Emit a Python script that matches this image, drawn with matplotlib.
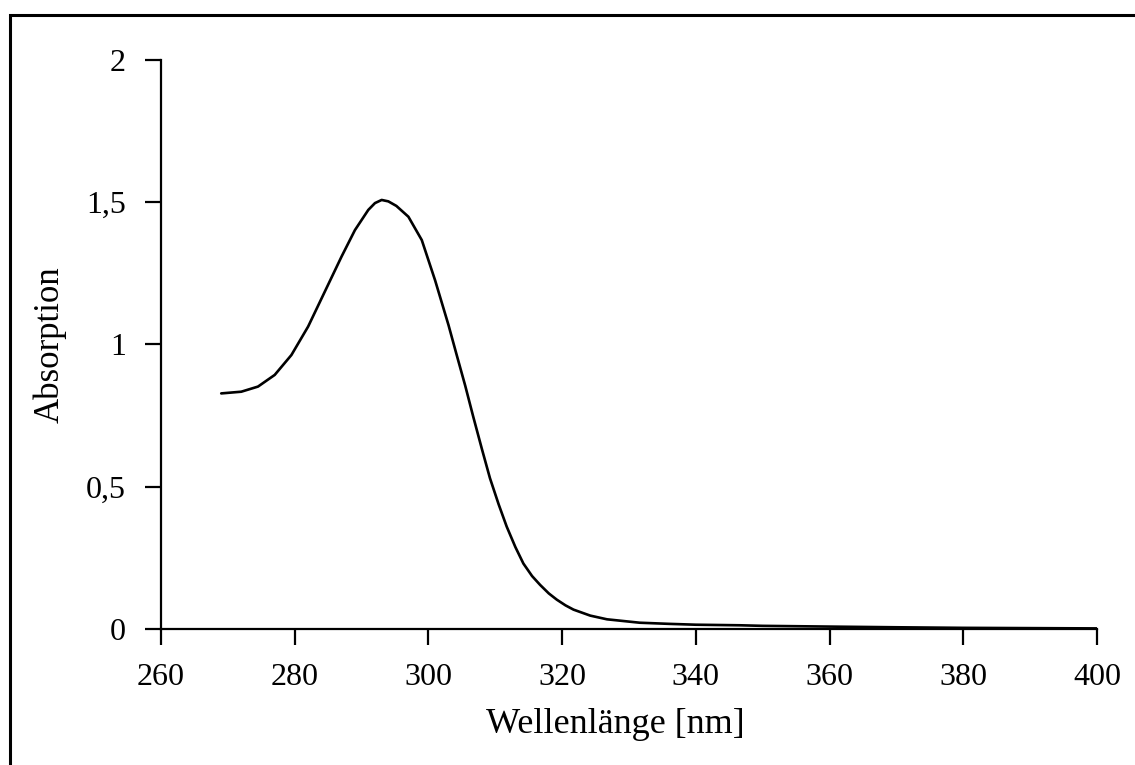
import numpy as np
import matplotlib
matplotlib.use("Agg")
import matplotlib.pyplot as plt
from matplotlib.patches import Rectangle
from matplotlib.ticker import FuncFormatter

plt.rcParams["font.family"] = ["Liberation Serif", "DejaVu Serif"]

# absorption spectrum
wavelength = [269.0, 272.0, 274.5, 277.0, 279.5, 282.0, 284.5, 287.0, 289.0,
              291.0, 292.0, 293.0, 294.0, 295.2, 297.0, 299.0, 301.0, 303.0,
              304.2, 305.5, 306.7, 308.0, 309.2, 310.5, 311.7, 313.0, 314.2,
              315.5, 316.7, 318.0, 319.2, 320.5, 321.7, 324.2, 326.7, 331.6,
              336.0, 340.0, 346.6, 350.0, 361.6, 370.0, 380.0, 390.0, 400.0]
absorption = [0.828, 0.834, 0.852, 0.893, 0.963, 1.063, 1.186, 1.309, 1.402,
              1.473, 1.497, 1.508, 1.503, 1.487, 1.449, 1.367, 1.225, 1.068,
              0.965, 0.855, 0.746, 0.632, 0.530, 0.438, 0.360, 0.288, 0.230,
              0.186, 0.155, 0.125, 0.103, 0.083, 0.068, 0.047, 0.034, 0.022,
              0.018, 0.015, 0.013, 0.011, 0.008, 0.006, 0.004, 0.003, 0.002]

x_ticks = [260, 280, 300, 320, 340, 360, 380, 400]
y_ticks = [0, 0.5, 1, 1.5, 2]

fig = plt.figure(figsize=(11.35, 7.65), dpi=100)
ax = fig.add_axes([0.1419, 0.1778, 0.8246, 0.7438])

ax.plot(wavelength, absorption, color="black", lw=1.9,
        solid_joinstyle="round", solid_capstyle="round")

ax.set_xlim(260, 400)
ax.set_ylim(0, 2)
ax.set_xticks(x_ticks)
ax.set_yticks(y_ticks)
ax.yaxis.set_major_formatter(FuncFormatter(lambda v, p: ("%g" % v).replace(".", ",")))

for side in ["top", "right"]:
    ax.spines[side].set_visible(False)
for side in ["left", "bottom"]:
    ax.spines[side].set_linewidth(1.6)

ax.tick_params(axis="both", direction="out", length=11.5, width=1.6,
               labelsize=23, color="black")
ax.tick_params(axis="y", pad=14)
ax.tick_params(axis="x", pad=13)

ax.set_xlabel("Wellenlänge [nm]", fontsize=26)
ax.set_ylabel("Absorption", fontsize=25)
ax.xaxis.set_label_coords(0.485, -0.138)
ax.yaxis.set_label_coords(-0.101, 0.5)

# outer frame (right/bottom edges fall outside the image)
frame = Rectangle((9.7 / 1135, -0.1), 1.2, 1 - 14.7 / 765 + 0.1,
                  transform=fig.transFigure, fill=False, lw=2.2,
                  edgecolor="black", clip_on=False)
fig.add_artist(frame)

fig.savefig("out.png", dpi=100)
